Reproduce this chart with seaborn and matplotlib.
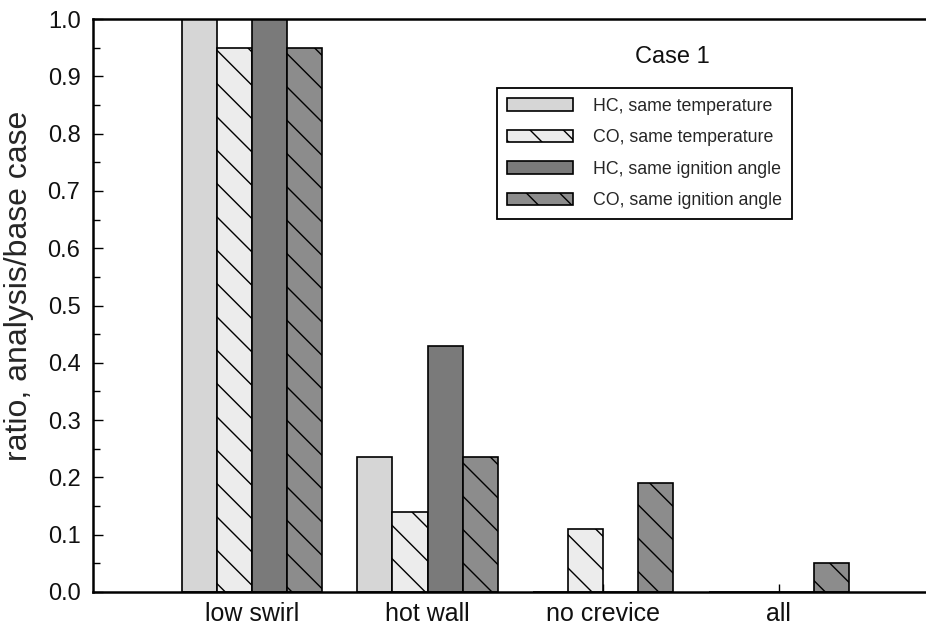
import matplotlib
matplotlib.use("Agg")
import matplotlib.pyplot as plt
import seaborn as sns
import pandas as pd

# Emission ratios of each analysis case relative to the base case
categories = ["low swirl", "hot wall", "no crevice", "all"]
series = [
    "HC, same temperature",
    "CO, same temperature",
    "HC, same ignition angle",
    "CO, same ignition angle",
]
hc_same_temp = [1.00, 0.235, 0.0, 0.0]
co_same_temp = [0.95, 0.14, 0.11, 0.0]
hc_same_ign = [1.00, 0.43, 0.0, 0.0]
co_same_ign = [0.95, 0.235, 0.19, 0.05]
y_ticks = [0.0, 0.1, 0.2, 0.3, 0.4, 0.5, 0.6, 0.7, 0.8, 0.9, 1.0]

values = [hc_same_temp, co_same_temp, hc_same_ign, co_same_ign]
df = pd.DataFrame(
    [(cat, s, v[i]) for s, v in zip(series, values) for i, cat in enumerate(categories)],
    columns=["case", "series", "ratio"],
)

sns.set_theme(style="ticks")
plt.rcParams["font.family"] = ["Liberation Sans", "DejaVu Sans"]

fills = ["#d6d6d6", "#ececec", "#7a7a7a", "#8c8c8c"]
hatches = ["", "\\", "", "\\"]

fig = plt.figure(figsize=(9.26, 6.27), dpi=100)
ax = fig.add_axes([93 / 926, 35 / 627, 833 / 926, 573 / 627])

sns.barplot(
    data=df, x="case", y="ratio", hue="series",
    order=categories, hue_order=series,
    palette=fills, width=0.8, legend=False,
    edgecolor="black", linewidth=1.2, ax=ax,
)

for cont, h in zip(ax.containers, hatches):
    for p in cont.patches:
        p.set_hatch(h)
        p.set_edgecolor("black")

ax.set_xlim(-0.905, 3.838)
ax.set_ylim(0, 1.0)
ax.set_yticks(y_ticks)
ax.set_yticklabels([f"{t:.1f}" for t in y_ticks])
ax.set_yticks([t + 0.05 for t in y_ticks[:-1]], minor=True)

ax.set_xlabel("")
ax.set_ylabel("ratio, analysis/base case", fontsize=23)
ax.yaxis.set_label_coords(-0.0708, 0.534)

ax.tick_params(axis="y", which="major", direction="in", length=7, width=1.0,
               labelsize=17, pad=9, color="black", labelcolor="#111111")
ax.tick_params(axis="y", which="minor", direction="in", length=5, width=1.0, color="black")
ax.tick_params(axis="x", direction="in", length=6, width=1.0, labelsize=18,
               pad=7, color="black", labelcolor="#111111")

for side in ["left", "bottom", "top"]:
    ax.spines[side].set_visible(True)
    ax.spines[side].set_color("black")
    ax.spines[side].set_linewidth(1.8)
ax.spines["right"].set_visible(False)

leg = ax.legend(
    ax.containers, series,
    loc="upper left", bbox_to_anchor=(0.485, 0.88), borderaxespad=0,
    fontsize=12.8, frameon=True, fancybox=False, shadow=False,
    handlelength=3.75, handleheight=0.7, handletextpad=1.1,
    labelspacing=0.82, borderpad=0.55,
)
leg.get_frame().set_edgecolor("black")
leg.get_frame().set_linewidth(1.3)
leg.get_frame().set_facecolor("white")
leg.get_frame().set_alpha(1.0)

ax.text(0.695, 0.934, "Case 1", transform=ax.transAxes, ha="center", va="center",
        fontsize=17, color="#111111")

fig.savefig("out.png", dpi=100, facecolor="white")
